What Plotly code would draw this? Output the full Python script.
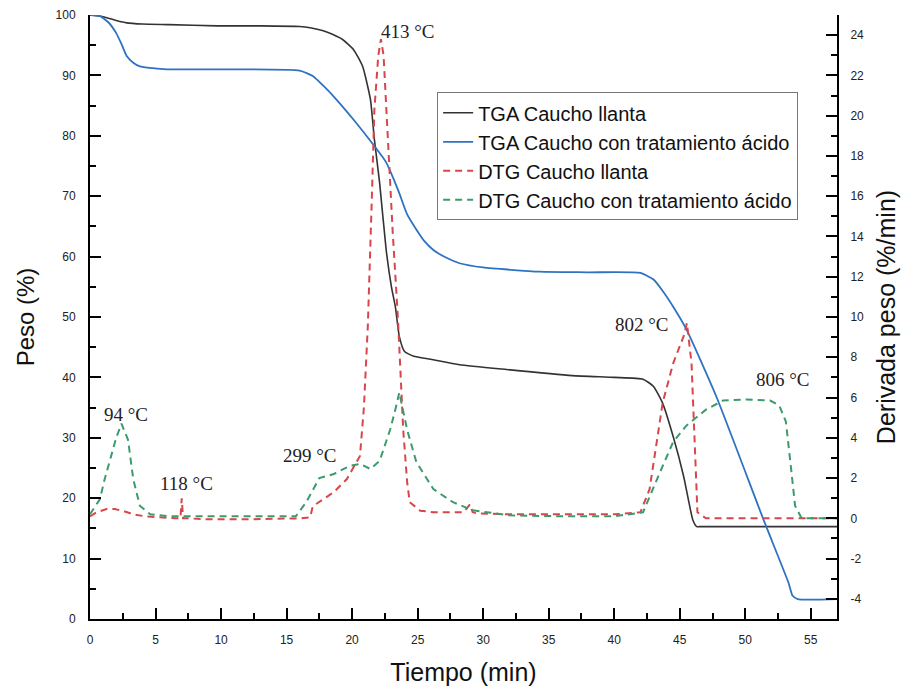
import plotly.graph_objects as go

# ---- Data ----
tga_llanta_t = [0, 1, 2, 2.8, 4, 6, 9.7, 13, 16, 16.8, 17.8, 18.5, 19.3, 20.1, 20.8, 21.4, 21.7, 22.1,
                22.6, 23.0, 23.3, 23.6, 24.0, 24.7, 26, 28.2, 31.8, 36.8, 40, 42.2, 43.0, 43.7, 44.5,
                45.3, 46.0, 46.3, 46.6, 50, 57]
tga_llanta_w = [100, 99.7, 99.1, 98.7, 98.5, 98.4, 98.2, 98.2, 98.1, 97.9, 97.4, 96.8, 95.9, 94.3, 91.5,
                86, 79.4, 72.2, 61.1, 55, 51.7, 46.8, 44.3, 43.5, 43.0, 42.1, 41.3, 40.3, 40.0, 39.7,
                38.5, 35.7, 30.2, 23.6, 16.4, 15.3, 15.3, 15.3, 15.3]

tga_acido_t = [0, 0.76, 1.4, 2.0, 2.4, 2.8, 3.3, 3.8, 4.8, 5.85, 10, 16.0, 17.0, 17.8, 18.6, 20.1, 21.7,
               22.6, 23.1, 23.6, 24.2, 24.9, 25.5, 26.2, 27.2, 28.2, 30, 34.3, 38, 42.0, 43.0, 43.7,
               44.5, 45.5, 47.8, 51.4, 53.3, 53.6, 54.0, 57]
tga_acido_w = [100, 99.8, 98.8, 97, 95.2, 93.2, 92.1, 91.5, 91.2, 91.0, 91.0, 90.8, 89.9, 88.3, 86.5,
               82.7, 78.3, 75.6, 73.2, 70.5, 67, 64.5, 62.6, 61.1, 59.8, 58.9, 58.2, 57.5, 57.4, 57.3,
               56.2, 54.3, 51.7, 48.0, 36.8, 16.4, 6, 3.9, 3.3, 3.3]

dtg_llanta_t = [0, 0.5, 1.27, 1.9, 2.6, 3.3, 4.2, 5.1, 6.5, 6.9, 7.0, 7.1, 7.5, 8.9, 12, 16.0, 16.8,
                17.0, 17.8, 18.6, 19.6, 20.1, 20.6, 20.9, 21.2, 21.5, 21.7, 22.0, 22.2, 22.4, 22.6,
                23.1, 23.5, 23.9, 24.2, 24.4, 25.2, 26.2, 28.5, 29.0, 29.2, 29.5, 32, 36, 40, 42.0,
                42.7, 43.2, 43.7, 44.5, 45.3, 45.55, 45.9, 46.2, 46.35, 47.0, 50, 57]
dtg_llanta_d = [0.1, 0.3, 0.46, 0.46, 0.35, 0.2, 0.1, 0.05, 0.0, 0.0, 1.0, 0.0, 0.0, -0.05, -0.05, 0.0,
                0.05, 0.6, 0.95, 1.3, 1.95, 2.5, 3.1, 5.5, 9.55, 15.8, 20.3, 23.0, 23.8, 23.0, 20.3,
                14.2, 9.9, 4.4, 1.8, 0.8, 0.38, 0.3, 0.3, 0.7, 0.3, 0.25, 0.2, 0.2, 0.2, 0.3, 1.45,
                3.6, 5.75, 7.7, 9.05, 9.7, 7.7, 2.8, 0.3, 0.0, 0.0, 0.0]

dtg_acido_t = [0, 0.76, 1.1, 1.5, 2.0, 2.4, 2.9, 3.3, 3.8, 4.6, 6, 10, 15.7, 16.5, 17.5, 18.6, 19.8,
               20.6, 21.4, 22.1, 22.9, 23.3, 23.6, 24.2, 24.9, 26.2, 27.7, 29.2, 32, 36, 40, 42.2,
               42.7, 43.5, 44.5, 45.5, 47.0, 48.3, 50.1, 51.9, 52.6, 53.1, 53.5, 53.8, 54.3, 57]
dtg_acido_d = [0.2, 0.96, 1.9, 2.8, 4.0, 4.7, 3.9, 1.95, 0.63, 0.2, 0.1, 0.1, 0.1, 0.8, 2.0, 2.2, 2.6,
               2.7, 2.45, 2.85, 4.4, 5.4, 6.25, 4.4, 2.8, 1.45, 0.8, 0.4, 0.15, 0.1, 0.1, 0.3, 1.1,
               2.3, 3.8, 4.6, 5.4, 5.85, 5.9, 5.85, 5.6, 4.8, 2.45, 0.63, 0.0, 0.0]

series_names = ["TGA Caucho llanta", "TGA Caucho con tratamiento ácido",
                "DTG Caucho llanta", "DTG Caucho con tratamiento ácido"]

peak_labels = ["413 °C", "94 °C", "118 °C", "299 °C", "802 °C", "806 °C"]
peak_x = [24.3, 2.78, 7.36, 16.8, 42.1, 52.9]
peak_y = [24.19, 5.18, 1.74, 3.14, 9.64, 6.91]

deriv_ticks = [-4, -2, 0, 2, 4, 6, 8, 10, 12, 14, 16, 18, 20, 22, 24]
deriv_ticktext = [str(v) for v in deriv_ticks]

# ---- Figure ----
SANS = "Liberation Sans, Arial, sans-serif"
SERIF = "Liberation Serif, Times New Roman, serif"

fig = go.Figure()
fig.add_trace(go.Scatter(x=tga_llanta_t, y=tga_llanta_w, name=series_names[0], mode="lines",
                         line=dict(color="#333333", width=1.6, shape="spline", smoothing=0.5)))
fig.add_trace(go.Scatter(x=tga_acido_t, y=tga_acido_w, name=series_names[1], mode="lines",
                         line=dict(color="#2f72c2", width=1.8, shape="spline", smoothing=0.5)))
fig.add_trace(go.Scatter(x=dtg_llanta_t, y=dtg_llanta_d, name=series_names[2], mode="lines",
                         yaxis="y2", line=dict(color="#d9464a", width=2, dash="7px,5px")))
fig.add_trace(go.Scatter(x=dtg_acido_t, y=dtg_acido_d, name=series_names[3], mode="lines",
                         yaxis="y2", line=dict(color="#3c9a6c", width=2, dash="7px,5px")))

for lab, px, py in zip(peak_labels, peak_x, peak_y):
    fig.add_annotation(x=px, y=py, xref="x", yref="y2", text=lab, showarrow=False,
                       xanchor="center", yanchor="middle",
                       font=dict(family=SERIF, size=19, color="#222222"))

axis_common = dict(showline=True, linecolor="black", linewidth=2, showgrid=False, zeroline=False,
                   ticks="inside", ticklen=11, tickwidth=2, tickcolor="black", automargin=False,
                   tickfont=dict(family=SANS, size=12, color="#222222"))

fig.update_layout(
    width=904, height=689,
    margin=dict(l=90, r=67, t=15, b=70),
    paper_bgcolor="white", plot_bgcolor="white",
    showlegend=True,
    legend=dict(x=0.4647, y=0.872, xanchor="left", yanchor="top",
                bordercolor="#777777", borderwidth=1, bgcolor="white",
                font=dict(family=SANS, size=20, color="#111111"), tracegroupgap=0),
    xaxis=dict(range=[0, 57], dtick=5, tick0=0, ticklabelstandoff=9,
               minor=dict(dtick=2.5, ticks="inside", ticklen=6, tickwidth=2, tickcolor="black"),
               title=dict(text="Tiempo (min)", font=dict(family=SANS, size=25, color="#111111"),
                          standoff=17),
               **axis_common),
    yaxis=dict(range=[0, 100], dtick=10, tick0=0, ticklabelstandoff=10,
               minor=dict(dtick=5, ticks="inside", ticklen=6, tickwidth=2, tickcolor="black"),
               title=dict(text="Peso (%)", font=dict(family=SANS, size=24, color="#111111"),
                          standoff=14),
               **axis_common),
    yaxis2=dict(range=[-5, 25], tickmode="array", tickvals=deriv_ticks, ticktext=deriv_ticktext,
                ticklabelstandoff=9, overlaying="y", side="right", anchor="x",
                minor=dict(dtick=1, ticks="inside", ticklen=6, tickwidth=2, tickcolor="black"),
                title=dict(text="Derivada peso (%/min)", font=dict(family=SANS, size=25, color="#111111"),
                           standoff=14),
                **axis_common),
)

fig.write_html("out.html")
